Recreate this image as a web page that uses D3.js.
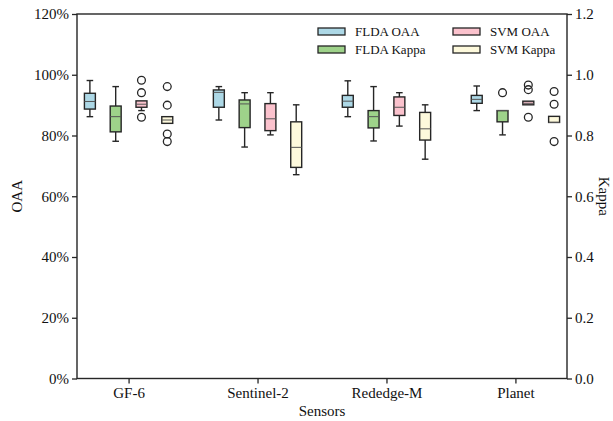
<!DOCTYPE html>
<html>
<head>
<meta charset="utf-8">
<script src="https://cdn.jsdelivr.net/npm/d3@7"></script>
<style>
  html, body { margin: 0; padding: 0; background: #fff; }
  svg { display: block; font-family: "Liberation Serif", "Times New Roman", serif; }
</style>
</head>
<body>
<svg id="chart" width="613" height="421"></svg>
<script>
// Sensors on the x axis
const sensors = ["GF-6", "Sentinel-2", "Rededge-M", "Planet"];
const seriesNames = ["FLDA OAA", "FLDA Kappa", "SVM OAA", "SVM Kappa"];
const seriesColors = ["#add8e6", "#9ed28a", "#fbc2cd", "#fdf9dc"];

// Box statistics per sensor: [lower whisker, Q1, median, Q3, upper whisker] (percent)
const fldaOaa = [
  [86.2, 88.7, 91.2, 93.9, 98.1],
  [85.1, 89.3, 94.2, 95.0, 96.1],
  [86.2, 89.3, 91.3, 93.2, 98.0],
  [88.2, 90.6, 91.9, 93.2, 96.3]
];
const fldaKappa = [
  [78.1, 81.2, 86.2, 89.7, 96.1],
  [76.2, 82.6, 90.4, 91.7, 94.1],
  [78.2, 82.5, 86.2, 88.2, 96.1],
  [80.2, 84.5, 88.2, 88.2, 88.2]
];
const svmOaa = [
  [88.2, 89.3, 90.3, 91.4, 91.4],
  [80.2, 81.6, 85.5, 90.5, 94.1],
  [83.1, 86.6, 89.3, 92.7, 94.1],
  [90.1, 90.1, 90.6, 91.3, 91.3]
];
const svmKappa = [
  [84.0, 84.0, 85.1, 86.2, 86.2],
  [67.1, 69.5, 76.1, 84.5, 90.1],
  [72.2, 78.5, 82.2, 87.6, 90.1],
  [84.3, 84.3, 84.3, 86.3, 86.3]
];

// Outlier points per sensor (percent)
const fldaOaaOutliers = [[], [], [], []];
const fldaKappaOutliers = [[], [], [], [94.1]];
const svmOaaOutliers = [[98.2, 94.1, 86.0], [], [], [96.6, 95.1, 86.0]];
const svmKappaOutliers = [[96.1, 90.0, 80.5, 78.0], [], [], [94.5, 90.3, 78.0]];

// Tick values
const leftTicks = [0, 20, 40, 60, 80, 100, 120];
const rightTicks = [0, 0.2, 0.4, 0.6, 0.8, 1.0, 1.2];

const series = [
  { name: seriesNames[0], color: seriesColors[0], stats: fldaOaa, outliers: fldaOaaOutliers },
  { name: seriesNames[1], color: seriesColors[1], stats: fldaKappa, outliers: fldaKappaOutliers },
  { name: seriesNames[2], color: seriesColors[2], stats: svmOaa, outliers: svmOaaOutliers },
  { name: seriesNames[3], color: seriesColors[3], stats: svmKappa, outliers: svmKappaOutliers }
];
const offsets = [-0.3, -0.1, 0.1, 0.3];
const boxWidth = 0.085;

const svg = d3.select("#chart");
const m = { left: 77, right: 567, top: 14, bottom: 378.5 };
const ink = "#262626";

const x = d3.scaleLinear().domain([0.6, 4.4]).range([m.left, m.right]);
const y = d3.scaleLinear().domain([0, 120]).range([m.bottom, m.top]);
const yR = d3.scaleLinear().domain([0, 1.2]).range([m.bottom, m.top]);

// Axes
function styleAxis(g) {
  g.select(".domain").remove();
  g.selectAll(".tick line").attr("stroke", ink).attr("stroke-width", 1.3);
  g.selectAll(".tick text").attr("fill", "#111").attr("font-size", "15px")
    .attr("font-family", "Liberation Serif, Times New Roman, serif");
}

svg.append("g")
  .attr("transform", `translate(${m.left},0)`)
  .call(d3.axisLeft(y).tickValues(leftTicks).tickSize(5).tickPadding(3).tickFormat(d => d + "%"))
  .call(styleAxis);

svg.append("g")
  .attr("transform", `translate(${m.right},0)`)
  .call(d3.axisRight(yR).tickValues(rightTicks).tickSize(5).tickPadding(3).tickFormat(d3.format(".1f")))
  .call(styleAxis);

svg.append("g")
  .attr("transform", `translate(0,${m.bottom})`)
  .call(d3.axisBottom(x).tickValues([1, 2, 3, 4]).tickSize(5).tickPadding(4).tickFormat(d => sensors[d - 1]))
  .call(styleAxis);

// Boxes
const plot = svg.append("g");
series.forEach((s, si) => {
  const g = plot.append("g");
  s.stats.forEach((st, i) => {
    const cx = x(i + 1 + offsets[si]);
    const half = (x(boxWidth) - x(0)) / 2;
    const capHalf = half * 0.6;
    const [lo, q1, med, q3, hi] = st;
    // whiskers
    g.append("line").attr("x1", cx).attr("x2", cx).attr("y1", y(q3)).attr("y2", y(hi))
      .attr("stroke", ink).attr("stroke-width", 1.4);
    g.append("line").attr("x1", cx).attr("x2", cx).attr("y1", y(q1)).attr("y2", y(lo))
      .attr("stroke", ink).attr("stroke-width", 1.4);
    if (hi > q3) {
      g.append("line").attr("x1", cx - capHalf).attr("x2", cx + capHalf).attr("y1", y(hi)).attr("y2", y(hi))
        .attr("stroke", ink).attr("stroke-width", 1.4);
    }
    if (lo < q1) {
      g.append("line").attr("x1", cx - capHalf).attr("x2", cx + capHalf).attr("y1", y(lo)).attr("y2", y(lo))
        .attr("stroke", ink).attr("stroke-width", 1.4);
    }
    // box
    g.append("rect").attr("x", cx - half).attr("width", half * 2)
      .attr("y", y(q3)).attr("height", y(q1) - y(q3))
      .attr("fill", s.color).attr("stroke", ink).attr("stroke-width", 1.4);
    // median
    g.append("line").attr("x1", cx - half).attr("x2", cx + half).attr("y1", y(med)).attr("y2", y(med))
      .attr("stroke", "#555").attr("stroke-width", 1);
    // outliers
    s.outliers[i].forEach(v => {
      g.append("circle").attr("cx", cx).attr("cy", y(v)).attr("r", 3.9)
        .attr("fill", "none").attr("stroke", ink).attr("stroke-width", 1.3);
    });
  });
});

// Frame
svg.append("rect")
  .attr("x", m.left).attr("y", m.top)
  .attr("width", m.right - m.left).attr("height", m.bottom - m.top)
  .attr("fill", "none").attr("stroke", ink).attr("stroke-width", 1.4);

// Axis titles
svg.append("text").attr("x", (m.left + m.right) / 2).attr("y", 416)
  .attr("text-anchor", "middle").attr("font-size", "15px").attr("fill", "#111").text("Sensors");
svg.append("text").attr("transform", `translate(22,${(m.top + m.bottom) / 2}) rotate(-90)`)
  .attr("text-anchor", "middle").attr("font-size", "15px").attr("fill", "#111").text("OAA");
svg.append("text").attr("transform", `translate(599,${(m.top + m.bottom) / 2}) rotate(90)`)
  .attr("text-anchor", "middle").attr("font-size", "15px").attr("fill", "#111").text("Kappa");

// Legend
const legendPos = [[318, 31.5], [318, 49.5], [453, 31.5], [453, 49.5]];
const legend = svg.append("g");
series.forEach((s, si) => {
  const [lx, ly] = legendPos[si];
  legend.append("rect").attr("x", lx).attr("y", ly - 3.5).attr("width", 27).attr("height", 7)
    .attr("fill", s.color).attr("stroke", ink).attr("stroke-width", 1.3);
  legend.append("text").attr("x", lx + 37).attr("y", ly).attr("dy", "0.35em")
    .attr("font-size", "13px").attr("fill", "#111").text(s.name);
});
</script>
</body>
</html>
